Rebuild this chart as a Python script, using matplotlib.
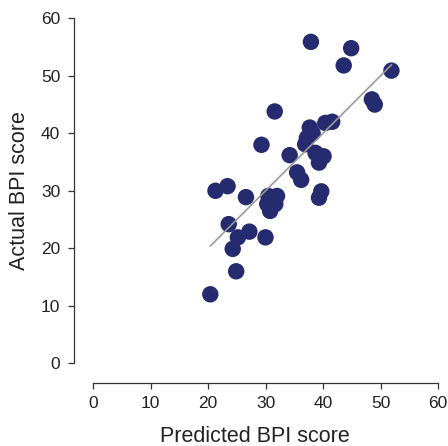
import numpy as np
import matplotlib
matplotlib.use('Agg')
import matplotlib.pyplot as plt

plt.rcParams['font.family'] = ['Liberation Sans', 'DejaVu Sans']

predicted = [20.4, 24.9, 24.3, 23.6, 25.2, 27.2, 30.0, 21.3, 23.4, 26.6,
             30.5, 32.0, 30.8, 31.7, 30.3, 29.3, 31.6, 34.2, 35.5, 36.2,
             37.9, 37.7, 38.2, 37.2, 36.9, 38.7, 39.3, 40.1, 39.7, 39.3,
             40.4, 41.6, 43.6, 44.9, 48.5, 49.0, 51.9]
actual = [12.0, 16.0, 19.9, 24.2, 21.9, 22.9, 21.9, 30.0, 30.8, 28.9,
          29.1, 29.1, 26.5, 27.7, 27.7, 38.0, 43.8, 36.2, 33.2, 31.9,
          55.9, 41.0, 40.0, 39.2, 38.1, 36.6, 34.9, 36.0, 29.9, 28.8,
          41.8, 42.0, 51.8, 54.8, 45.9, 45.0, 50.9]
ticks = [0, 10, 20, 30, 40, 50, 60]

fig = plt.figure(figsize=(4.48, 4.46), dpi=100)
ax = fig.add_axes([93 / 448, (446 - 363.3) / 446, 345 / 448, 345 / 446])

ax.scatter(predicted, actual, s=140, color='#262a6e', edgecolors='none', zorder=3)

# identity line over the range of predictions
lo, hi = min(predicted), max(predicted)
ax.plot([lo, hi], [lo, hi], color='#999999', lw=1.2, zorder=4)

ax.set_xlim(0, 60)
ax.set_ylim(0, 60)
ax.set_xticks(ticks)
ax.set_yticks(ticks)

for side in ['top', 'right']:
    ax.spines[side].set_visible(False)
for side in ['left', 'bottom']:
    ax.spines[side].set_position(('outward', 14))
    ax.spines[side].set_bounds(0, 60)
    ax.spines[side].set_color('#333333')
    ax.spines[side].set_linewidth(0.9)

ax.tick_params(axis='both', direction='out', length=4.5, width=0.9, color='#333333',
               labelsize=12.5, pad=5, labelcolor='#222222')

ax.set_xlabel('Predicted BPI score', fontsize=15.5, labelpad=11, x=0.47, color='#222222')
ax.set_ylabel('Actual BPI score', fontsize=15.5, labelpad=8, color='#222222')

fig.savefig('out.png', dpi=100)
